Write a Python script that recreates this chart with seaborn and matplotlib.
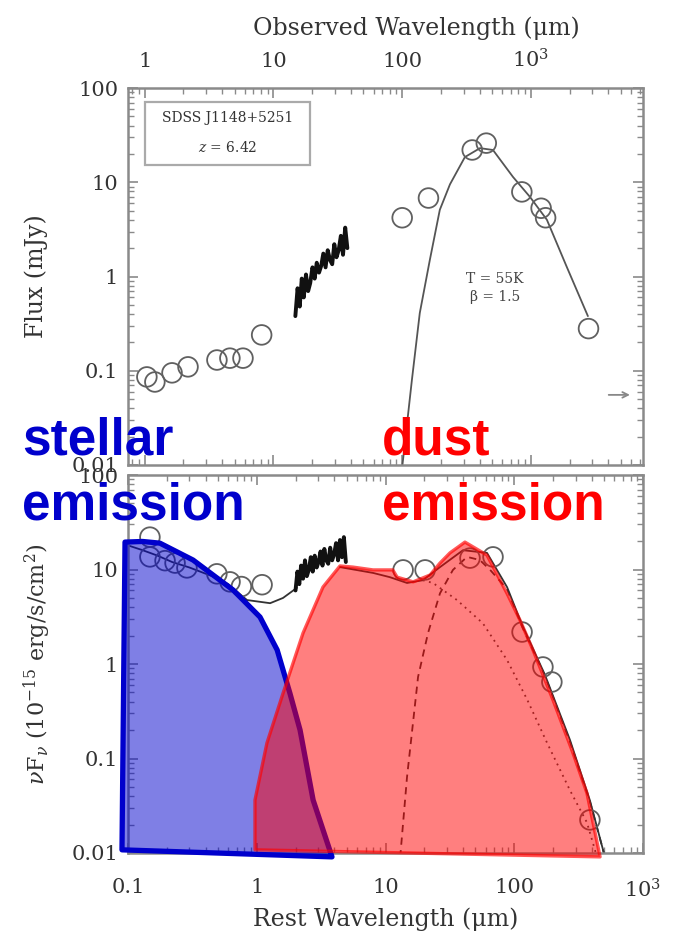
import matplotlib
matplotlib.use('Agg')
import matplotlib.pyplot as plt
import seaborn as sns
from matplotlib.ticker import LogLocator, FixedLocator, FixedFormatter, NullFormatter
from matplotlib.patches import Rectangle

# ---- top panel: observed frame, flux (mJy) ----
nir_obs_um = [1.04, 1.20, 1.63, 2.17, 3.64, 4.59, 5.80, 8.10]
nir_flux_mjy = [0.086, 0.076, 0.095, 0.11, 0.13, 0.136, 0.136, 0.24]
fir_obs_um = [100, 160, 350, 450, 850, 1200, 1300, 2800]
fir_flux_mjy = [4.2, 6.8, 22, 26, 7.9, 5.3, 4.2, 0.28]
irs_obs_um = [14.8, 15.4, 16.0, 16.6, 17.2, 17.9, 18.6, 19.3, 20.1, 20.9, 21.7, 22.6, 23.5,
              24.4, 25.4, 26.4, 27.5, 28.6, 29.7, 30.9, 32.1, 33.4, 34.7, 36.1, 37.5]
irs_flux_mjy = [0.38, 0.75, 0.48, 0.95, 0.60, 1.05, 0.70, 0.85, 1.25, 0.95, 1.40, 1.10, 1.30,
                1.75, 1.25, 1.90, 1.50, 1.35, 2.20, 1.60, 1.90, 2.70, 1.70, 3.30, 2.00]
fit_obs_um = [99.6, 119, 137, 164, 196, 235, 307, 402, 507, 725, 982, 1330, 1900, 2770]
fit_flux_mjy = [0.009, 0.08, 0.41, 1.5, 5.1, 9.5, 18.5, 23, 22, 11.4, 7.0, 4.0, 1.26, 0.38]

# ---- bottom panel: rest frame, nuFnu (1e-15 erg/s/cm2) ----
sed_rest_um = [0.148, 0.148, 0.194, 0.232, 0.287, 0.49, 0.62, 0.76, 1.1,
               13.7, 20.3, 45.3, 68.4, 115, 167, 196, 387]
sed_nufnu = [22, 13.6, 12.4, 11.7, 10.4, 9.0, 7.4, 6.6, 6.9,
             9.9, 9.9, 13.2, 13.6, 2.18, 0.93, 0.645, 0.0224]
spec_rest_um = [2.00, 2.07, 2.14, 2.21, 2.29, 2.37, 2.45, 2.54, 2.63, 2.72, 2.82, 2.92, 3.02,
                3.13, 3.24, 3.35, 3.47, 3.59, 3.72, 3.85, 3.99, 4.13, 4.28, 4.43, 4.59, 4.75, 4.92]
spec_nufnu = [6.0, 9.5, 7.0, 11.0, 8.0, 12.5, 8.5, 10.0, 13.5, 9.5, 14.0, 10.5, 12.0,
              15.5, 11.0, 16.5, 12.5, 11.5, 17.0, 12.5, 14.5, 19.0, 12.5, 20.5, 13.5, 22.0, 12.0]
model_uv_rest = [0.1, 0.13, 0.17, 0.22, 0.3, 0.45, 0.6, 0.84, 1.27, 1.6, 2.05]
model_uv_val = [18, 16, 14, 12, 10.5, 8.5, 7.0, 4.75, 4.4, 5.0, 6.4]
model_ir_rest = [4.43, 8.0, 10.8, 14.7, 19.5, 26.5, 40, 61.4, 88, 115, 173, 271, 387, 507]
model_ir_val = [10.6, 9.2, 8.3, 7.2, 7.7, 10.6, 16, 15, 6.5, 2.6, 0.77, 0.157, 0.036, 0.009]
cold_rest = [13.0, 14.7, 17.9, 21.4, 26.5, 33.4, 43, 54, 65, 88, 115, 173, 271, 387, 507]
cold_val = [0.009, 0.064, 0.73, 2.13, 5.6, 9.9, 13.6, 12.6, 9.9, 6.2, 2.5, 0.75, 0.15, 0.035, 0.009]
warm_rest = [19.5, 23.4, 35.9, 57, 88, 126, 180, 271, 367, 440]
warm_val = [7.7, 7.2, 4.75, 2.7, 1.1, 0.42, 0.146, 0.046, 0.021, 0.009]

# highlighted regions
stellar_rest = [0.0898, 0.0948, 0.13, 0.177, 0.32, 0.655, 1.06, 1.44, 1.81, 2.17, 2.74, 3.84]
stellar_val = [0.0108, 19.5, 19.8, 19, 12.6, 6.07, 3.14, 1.41, 0.49, 0.2, 0.0364, 0.0091]
dust_rest = [0.969, 0.969, 1.2, 1.6, 2.29, 3.27, 4.43, 5.6, 8.0, 11.4, 12.3, 16.4, 22.2, 26.5,
             31.7, 41.4, 61.4, 87.8, 111, 140, 200, 286, 367, 464]
dust_val = [0.0108, 0.0364, 0.146, 0.49, 2.13, 6.53, 10.9, 10.6, 9.9, 9.9, 8.3, 7.4, 8.75, 11.7,
            15, 19.5, 14.2, 5.6, 2.9, 1.4, 0.416, 0.114, 0.043, 0.0091]

sns.set_style('ticks')
plt.rcParams['font.family'] = ['DejaVu Serif']
plt.rcParams['mathtext.fontset'] = 'dejavuserif'

GREY = '#8a8a8a'
fig = plt.figure(figsize=(6.79, 9.33), dpi=100)
ax1 = fig.add_axes([128 / 679, 1 - 465 / 933, 515 / 679, 377 / 933])
ax2 = fig.add_axes([128 / 679, 1 - 853 / 933, 515 / 679, 378 / 933])


def style_axis(ax):
    ax.set_xscale('log')
    ax.set_yscale('log')
    ax.set_ylim(0.01, 100)
    for sp in ax.spines.values():
        sp.set_color(GREY)
        sp.set_linewidth(1.8)
    ax.yaxis.set_major_locator(FixedLocator([0.01, 0.1, 1, 10, 100]))
    ax.yaxis.set_major_formatter(FixedFormatter(['0.01', '0.1', '1', '10', '100']))
    ax.yaxis.set_minor_locator(LogLocator(base=10, subs=range(2, 10), numticks=20))
    ax.xaxis.set_minor_locator(LogLocator(base=10, subs=range(2, 10), numticks=20))
    ax.yaxis.set_minor_formatter(NullFormatter())
    ax.xaxis.set_minor_formatter(NullFormatter())
    ax.tick_params(which='both', direction='in', color=GREY, top=True, right=True,
                   labelsize=15, labelcolor='#333333')
    ax.tick_params(which='major', length=7, width=1.2)
    ax.tick_params(which='minor', length=4, width=1.0)
    ax.tick_params(axis='y', pad=7)
    ax.set_xlabel('')
    ax.set_ylabel('')


# top panel
style_axis(ax1)
ax1.set_xlim(0.742, 7420)
sns.lineplot(x=fit_obs_um, y=fit_flux_mjy, ax=ax1, color='#555555', lw=1.3,
             estimator=None, sort=False)
sns.lineplot(x=irs_obs_um, y=irs_flux_mjy, ax=ax1, color='#111111', lw=2.8,
             estimator=None, sort=False)
sns.scatterplot(x=nir_obs_um + fir_obs_um, y=nir_flux_mjy + fir_flux_mjy, ax=ax1, s=200,
                facecolor='none', edgecolor='#606060', linewidth=1.3, zorder=3)
ax1.xaxis.set_major_locator(FixedLocator([1, 10, 100, 1000]))
ax1.xaxis.set_major_formatter(FixedFormatter(['1', '10', '100', r'10$^3$']))
ax1.tick_params(axis='x', which='both', labeltop=True, labelbottom=False, pad=12)
ax1.set_xlabel('Observed Wavelength (μm)', fontsize=17, color='#333333')
ax1.xaxis.set_label_position('top')
ax1.xaxis.set_label_coords(0.56, 1.14)
ax1.set_ylabel('Flux (mJy)', fontsize=17, color='#333333')
ax1.yaxis.set_label_coords(-0.155, 0.5)
ax1.add_patch(Rectangle((0.033, 0.796), 0.32, 0.167, transform=ax1.transAxes,
                        fill=False, ec='#aaaaaa', lw=1.6))
ax1.text(0.193, 0.92, 'SDSS J1148+5251', transform=ax1.transAxes, ha='center', va='center',
         fontsize=10, color='#333333')
ax1.text(0.193, 0.843, r'$z$ = 6.42', transform=ax1.transAxes, ha='center', va='center',
         fontsize=10, color='#333333')
ax1.text(0.713, 0.493, 'T = 55K', transform=ax1.transAxes, ha='center', va='center',
         fontsize=10, color='#444444')
ax1.text(0.713, 0.446, 'β = 1.5', transform=ax1.transAxes, ha='center', va='center',
         fontsize=10, color='#444444')
ax1.annotate('', xy=(0.98, 0.186), xytext=(0.928, 0.186), xycoords='axes fraction',
             arrowprops=dict(arrowstyle='->', color='#888888', lw=1.3))

# bottom panel
style_axis(ax2)
ax2.set_xlim(0.1, 1000)
sns.lineplot(x=model_uv_rest, y=model_uv_val, ax=ax2, color='#333333', lw=1.3,
             estimator=None, sort=False)
sns.lineplot(x=model_ir_rest, y=model_ir_val, ax=ax2, color='#333333', lw=1.3,
             estimator=None, sort=False)
sns.lineplot(x=cold_rest, y=cold_val, ax=ax2, color='#333333', lw=1.3, ls=(0, (4, 3)),
             estimator=None, sort=False)
sns.lineplot(x=warm_rest, y=warm_val, ax=ax2, color='#444444', lw=1.3, ls=(0, (1, 2.5)),
             estimator=None, sort=False)
sns.lineplot(x=spec_rest_um, y=spec_nufnu, ax=ax2, color='#111111', lw=2.8,
             estimator=None, sort=False)
sns.scatterplot(x=sed_rest_um, y=sed_nufnu, ax=ax2, s=200, facecolor='none',
                edgecolor='#606060', linewidth=1.3, zorder=3)
ax2.xaxis.set_major_locator(FixedLocator([0.1, 1, 10, 100, 1000]))
ax2.xaxis.set_major_formatter(FixedFormatter(['0.1', '1', '10', '100', r'10$^3$']))
ax2.tick_params(axis='x', which='both', pad=18)
ax2.set_xlabel('Rest Wavelength (μm)', fontsize=17, color='#333333')
ax2.xaxis.set_label_coords(0.5, -0.145)
ax2.set_ylabel(r'$\nu$F$_\nu$ (10$^{-15}$ erg/s/cm$^2$)', fontsize=16, color='#333333')
ax2.yaxis.set_label_coords(-0.145, 0.5)

# stellar / dust highlight regions
ax2.fill(stellar_rest, stellar_val, fc=(0, 0, 0.8, 0.5), ec='#0000cc', lw=3.8,
         joinstyle='round', clip_on=False, zorder=5)
ax2.fill(dust_rest, dust_val, fc=(1, 0, 0, 0.5), ec=(1, 0, 0, 0.65), lw=2.4,
         joinstyle='round', clip_on=False, zorder=6)

big = dict(fontsize=37, fontweight='bold', family=['Liberation Sans', 'DejaVu Sans'],
           va='baseline', ha='left', zorder=10)
fig.text(22 / 679, 1 - 455 / 933, 'stellar', color='#0000cc', **big)
fig.text(22 / 679, 1 - 520 / 933, 'emission', color='#0000cc', **big)
fig.text(382 / 679, 1 - 455 / 933, 'dust', color='#ff0000', **big)
fig.text(382 / 679, 1 - 520 / 933, 'emission', color='#ff0000', **big)

fig.savefig('out.png', dpi=100)
